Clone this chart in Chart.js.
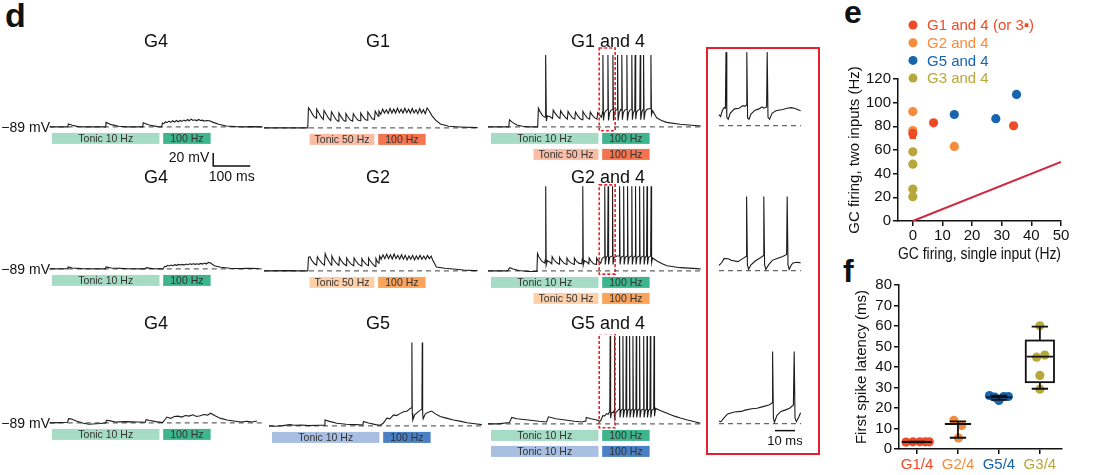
<!DOCTYPE html>
<html lang="en">
<head>
<meta charset="UTF-8">
<title>GC firing with paired inputs</title>
<script src="https://cdn.jsdelivr.net/npm/chart.js@4.4.1/dist/chart.umd.min.js"></script>
<style>
  body { margin: 0; width: 1093px; height: 475px; position: relative; overflow: hidden; background: #fff;
         font-family: 'Liberation Sans', Arial, sans-serif; color: #111; }
  canvas { position: absolute; }
  .lbl { position: absolute; line-height: 1; white-space: nowrap; transform: translate(-50%, -50%); font-size: 18px; }
  .panel { position: absolute; font-weight: bold; line-height: 1; }
  .mv { position: absolute; left: 0; width: 50px; text-align: right; font-size: 14px; line-height: 1; transform: translateY(-50%); }
  #frame { position: absolute; left: 706px; top: 47px; width: 114px; height: 408px; border: 2px solid #e4202c; box-sizing: border-box; }
</style>
</head>
<body>
<div class="panel" style="left:5px;top:-2px;font-size:34px">d</div>
<div class="panel" style="left:844px;top:-4px;font-size:32px">e</div>
<div class="panel" style="left:843px;top:255px;font-size:32px">f</div>
<div id="frame"></div>

<script>
  Chart.defaults.font.family = "'Liberation Sans', Arial, sans-serif";
  Chart.defaults.color = '#111';

  var REST = -89;          // mV, resting level (dashed lines)
  var MS_PX = 0.37;        // px per ms, main traces
  var ZOOM_MS_PX = 2;      // px per ms, red-boxed insets
  var MV_PX = 0.6466;      // px per mV

  // stimulus timing, ms from train start
  var tonic10 = [0, 290];
  var tonic50 = [115, 290];
  var burst100 = [300, 428];
  var zoomWindow = [292, 335];

  // traces, flat [t ms, mV, t ms, mV, ...]
  var g4Row1 = [-6,-89, 43,-89, 44,-84.5, 55,-86.5, 70,-88.5, 90,-89, 145,-89, 146,-82, 160,-85.5, 180,-88, 200,-89,
    245,-89, 246,-82.5, 262,-86, 285,-88.5, 296,-89, 298,-83, 302,-84, 306,-81, 310,-82.5, 316,-80, 320,-82, 326,-79.5,
    330,-81.5, 336,-79, 340,-81, 346,-79, 350,-80.5, 356,-78.5, 360,-80, 366,-77.5, 370,-79.5, 376,-77, 380,-79,
    386,-78, 390,-79.5, 396,-77.5, 400,-79, 406,-78.5, 410,-80, 418,-79, 425,-79.5, 435,-82, 450,-85, 470,-87.5,
    495,-88.5, 520,-89, 540,-88.5, 568,-89];
  var g4Row2 = [-6,-89, 42,-88.5, 44,-86, 55,-87.5, 80,-88.5, 144,-89, 146,-86, 160,-87.5, 200,-88.5, 252,-89, 254,-87,
    270,-88.5, 300,-89, 304,-85, 308,-85.5, 312,-83.5, 316,-84.5, 322,-83, 326,-84, 332,-82.5, 336,-83.5, 342,-82,
    346,-83, 352,-82, 356,-83, 362,-81.5, 366,-82.5, 372,-81, 376,-82, 382,-81, 386,-82, 392,-81, 396,-82, 402,-80.5,
    406,-81.5, 412,-80, 416,-81.5, 422,-79, 428,-80, 438,-84, 455,-86.5, 480,-88, 510,-88.5, 530,-88, 558,-88.5];
  var g4Row3 = [-6,-89, 20,-88.5, 42,-88, 45,-82.5, 53,-83, 65,-86, 85,-89.5, 100,-91, 130,-90, 145,-89, 147,-85,
    155,-85.5, 170,-87.5, 200,-87, 230,-87.5, 252,-88, 254,-84, 262,-85, 280,-87, 298,-88.5, 302,-86, 310,-80, 320,-82,
    330,-79, 340,-78.5, 350,-80, 360,-77.5, 370,-78.5, 380,-76.5, 390,-79, 400,-78, 410,-76, 420,-77, 428,-74, 440,-78,
    455,-82, 472,-84.5, 490,-86, 510,-87.5, 526,-86.5, 540,-87.5, 553,-86];
  var g1Alone = [-8,-89, 110,-89, 112,-58, 116,-61, 125,-70, 133,-74, 134,-60, 138,-64, 146,-72, 152,-76, 154,-62,
    158,-66, 166,-74, 172,-77.5, 174,-64, 178,-68, 186,-76, 192,-78.5, 194,-66, 198,-70, 206,-77, 211,-78.5, 213,-67,
    217,-71, 225,-77, 231,-78.5, 233,-67, 237,-71, 245,-77, 251,-78, 253,-66, 257,-70, 265,-76, 270,-77, 272,-64.5,
    276,-68, 284,-75, 290,-76, 292,-63, 296,-67, 300,-71, 302,-63, 307,-68, 312,-60, 317,-66, 322,-61, 327,-66.5,
    332,-59, 337,-66, 342,-60, 347,-66, 352,-58.5, 357,-65.5, 362,-60, 367,-66, 372,-58.5, 377,-65.5, 382,-60, 387,-66,
    392,-59, 397,-66, 402,-61, 407,-67, 412,-59, 417,-66, 422,-61, 427,-67, 432,-58, 437,-62, 445,-70, 455,-77,
    468,-83, 490,-86.5, 520,-87.5, 568,-88.5];
  var g2Alone = [-8,-89, 60,-88.5, 80,-89, 110,-89, 112,-68, 116,-67, 120,-72, 128,-78, 134,-80, 136,-67, 140,-71,
    148,-77, 155,-80, 157,-62, 161,-68, 169,-76, 174,-80, 175,-66, 179,-71, 187,-77, 194,-80.5, 195.5,-68, 199,-72,
    207,-78, 214,-81, 215,-69, 219,-73, 227,-78.5, 234,-81, 235,-69, 239,-73, 247,-79, 255,-81.5, 256,-70, 260,-74,
    268,-79, 273,-81, 274,-69, 278,-73, 286,-79, 292,-82, 294,-70, 298,-75, 302,-77, 304,-66, 308,-71, 313,-64,
    318,-70, 323,-63, 328,-70, 333,-64, 338,-70.5, 343,-63, 348,-70, 353,-65, 358,-71, 363,-64, 368,-71, 373,-65,
    378,-72, 383,-66, 388,-71, 393,-65, 398,-72, 403,-66, 408,-71, 413,-65, 418,-71, 423,-66, 428,-71, 433,-65,
    438,-70, 443,-66, 447,-72, 457,-83, 480,-85, 503,-86, 530,-87.5, 558,-88.5, 568,-88.5];
  var g5Alone = [-8,-89, 10,-89.5, 30,-88.5, 48,-87, 60,-88, 80,-87.5, 100,-88.5, 125,-88, 141,-88, 143,-80, 155,-82,
    175,-85, 200,-86.5, 225,-87, 245,-87.5, 247,-82, 260,-84.5, 280,-87, 292,-88, 300,-85, 310,-77, 318,-78, 328,-72,
    336,-73, 345,-70, 355,-67, 365,-66, 373,-62, 376.5,-61, 377.5,40, 378.5,-70, 380,-80, 385,-72, 395,-67, 404.5,-63,
    405.5,40, 406.5,-70, 408,-78, 414,-70, 422,-68, 431,-66, 440,-70, 454,-74.6, 470,-77, 490,-80, 510,-82, 526,-84,
    553,-86, 566,-87];
  var g1g4 = [-8,-89, 48,-89, 50,-78, 58,-82, 70,-86, 85,-88, 100,-89, 126,-89, 128,-60, 132,-65, 140,-72, 146,-74,
    147,-68, 148,22, 149.5,-80, 152,-72, 158,-73, 166,-76, 168,-63, 172,-67, 180,-73, 186,-76, 188,-64, 192,-68,
    200,-74, 206,-77, 208,-65, 212,-69, 220,-75, 226,-77, 228,-66, 232,-70, 240,-76, 246,-78, 248,-65, 252,-69,
    260,-75, 266,-77, 268,-66, 272,-70, 280,-75, 286,-77, 288,-67, 292,-70, 298,-74,
    301,-66, 302,22, 303.5,-79, 306,-68, 310,-64, 314,-62, 315.5,22, 317,-79, 320,-67, 324,-63, 328,-62, 329,22,
    330.5,-79, 333,-67, 337,-63, 340.5,-62, 341.6,22, 343,-79, 346,-67, 350,-62, 352,-63, 353,22, 354.5,-78, 357,-67,
    361,-63, 365.5,-62, 366.7,22, 368,-79, 371,-67, 375,-63, 379,-62, 380,22, 381.5,-78, 384,-67, 388,-63, 389,22,
    390.5,-77, 393,-66, 397,-63, 401.5,-62, 402.7,22, 404,-78, 407,-66, 410.5,-62, 411.7,22, 413,-78, 416,-66,
    420,-62, 425,-61, 430,-61, 431.5,22, 433,-70, 436,-64, 447,-75, 460,-79, 474,-82, 510,-85, 566,-87.5];
  var g2g4 = [-8,-89, 45,-89, 51,-84, 60,-86, 75,-88.5, 100,-90, 124,-90, 125.5,-62, 129,-67, 137,-74, 145,-77,
    146.5,-72, 147.7,42, 149,-80, 152,-73, 160,-76, 164,-78, 165,-67, 169,-71, 177,-76, 184,-78.5, 185,-68, 189,-72,
    197,-77, 204,-79, 205,-69, 209,-73, 217,-77, 224,-79, 225,-69, 229,-73, 237,-77, 245,-78, 246.5,-70, 247.7,42,
    249,-80, 252,-73, 260,-76, 264,-78, 265,-69, 269,-73, 277,-78, 284,-79, 285,-69, 289,-73, 296,-77,
    300,-70, 305.8,-67, 307,42, 308.3,-79, 311,-68, 314.8,-66, 316,42, 317.3,-79, 320,-68, 326.8,-66, 328,42,
    329.3,-79, 332,-68, 340,-66, 345.8,-66, 347,42, 348.3,-79, 351,-68, 356.8,-66, 358,42, 359.3,-79, 362,-68,
    367.3,-66, 368.5,42, 369.8,-79, 372.5,-68, 378.8,-66, 380,42, 381.3,-79, 384,-68, 388.8,-66, 390,42, 391.3,-79,
    394,-68, 399.8,-66, 401,42, 402.3,-79, 405,-68, 410.8,-66, 412,42, 413.3,-79, 416,-68, 419.8,-66, 421,42,
    422.3,-79, 425,-68, 430.8,-66, 432,42, 433.3,-76, 436,-69, 448,-73.6, 462,-78, 475,-81, 511,-84, 556,-85.5, 566,-86];
  var g5g4 = [-8,-89, 20,-89, 50,-87, 56,-79, 70,-81, 100,-83, 130,-85, 150,-86, 155,-78, 175,-81, 200,-83, 225,-85,
    245,-86, 256,-84.5, 257,-79, 270,-81, 285,-83, 294,-85, 296,-84, 302,-76, 306,-77, 312,-73, 316,-74, 320.5,-70,
    321.6,47, 322.8,-80, 325,-72, 329,-71, 332,-69, 333,47, 334.2,-80, 337,-71, 341,-69, 346,-66, 347,47, 348.2,-79,
    351,-68, 355,-66, 356,47, 357.2,-79, 360,-68, 364,-66, 365,47, 366.2,-79, 369,-68, 373,-66, 374,47, 375.2,-79,
    378,-68, 382,-66, 383,47, 384.2,-79, 387,-68, 391,-66, 392,47, 393.2,-79, 396,-68, 400,-66, 401,47, 402.2,-79,
    405,-68, 411,-66, 412,47, 413.2,-79, 416,-68, 420,-66, 421,47, 422.2,-79, 425,-68, 429,-66, 430,47, 431.2,-79,
    434,-68, 439,-66, 440,47, 441.2,-77, 444,-65, 455,-68, 475,-72.6, 495,-77, 511,-80, 530,-83, 547,-85.4, 565,-88];

  // insets: the red-boxed 43 ms, t from start of the box
  var g1g4Zoom = [0,-72, 0.8,-75, 1.6,-66, 2.6,-61, 3.2,-62, 3.5,25, 3.9,-76, 4.6,-79, 5.6,-70, 7.7,-63, 10,-62,
    12,-58, 13,-59, 13.6,-57, 13.9,25, 14.3,-77, 15,-79, 16,-71, 18,-65, 20,-63, 21.5,-60, 22.5,-62, 23.8,-60,
    24.1,25, 24.5,-76, 25.3,-79, 26.5,-70, 28.4,-66, 31.9,-64, 34,-62, 36.2,-61, 38,-62.5, 40.8,-66];
  var g2g4Zoom = [0,-81, 1.5,-76, 2.6,-70, 5,-71, 6,-73, 9.5,-75, 12,-70, 13.5,-67, 13.8,26, 14.2,-80, 14.8,-87,
    16,-80, 18.1,-74, 20.7,-69, 22.1,-66, 22.4,26, 22.8,-80, 23.4,-87, 24.8,-80, 26.7,-73, 29,-70, 31.9,-67,
    33.8,-64, 34.1,26, 34.5,-80, 35.1,-87, 36.2,-80, 37,-77, 39,-76, 40.8,-77];
  var g5g4Zoom = [0,-85, 1,-86, 2.5,-80, 4.3,-74, 7.7,-71, 11.2,-70, 13,-68, 16.4,-66, 19,-65, 21.5,-63, 25,-60,
    26.5,-57, 26.8,23, 27.2,-80, 27.7,-87, 29,-76, 31,-70, 33,-68, 35.3,-65, 37.2,-60, 37.6,23, 38,-80, 38.7,-86,
    40,-78, 40.8,-72];

  // panel e: GC firing (Hz), single input vs two inputs
  var eNames = ['G1 and 4 (or 3\u25AA)', 'G2 and 4', 'G5 and 4', 'G3 and 4'];
  var g1and4Single = [0, 0, 7, 34];
  var g1and4Both = [74, 72, 83, 80.5];
  var g2and4Single = [0, 0, 14];
  var g2and4Both = [92.5, 76.5, 63];
  var g5and4Single = [14, 28, 35];
  var g5and4Both = [90, 86.5, 107];
  var g3and4Single = [0, 0, 0, 0];
  var g3and4Both = [58.5, 48, 27, 20.5];
  var unityLine = [0, 50];

  // panel f: first spike latency (ms)
  var fGroups = ['G1/4', 'G2/4', 'G5/4', 'G3/4'];
  var latG1 = [3.4, 3.5, 3.5, 3.5, 3.5];
  var latG2 = [14, 11.5, 5.4];
  var latG5 = [26.1, 25.3, 23.7, 25.6, 25.6];
  var latG3 = [60.1, 44.8, 45.8, 35.9, 29.2];
  var jitG1 = [-0.27, -0.1, 0.07, 0.2, 0.3];
  var jitG2 = [-0.1, 0.09, 0.01];
  var jitG5 = [-0.23, -0.1, 0, 0.12, 0.23];
  var jitG3 = [0, -0.08, 0.12, 0, 0];
  // min, q1, median, q3, max
  var boxStats = [[3.3, 3.4, 3.5, 3.5, 3.6], [5.5, 12.2, 12.2, 12.2, 13.5], [24, 25.2, 25.2, 25.2, 26], [29.4, 32.6, 45.1, 52.9, 59.7]];

  var RED = '#ef4a27', ORANGE = '#f78b3c', BLUE = '#1764af', OLIVE = '#b7a83b';
  var stimColors = {
    G4: ['#a6dcc6', '#3fb58e'],
    G1: ['#f9bda6', '#f3744f'],
    G2: ['#fdd0aa', '#f9a35c'],
    G5: ['#a8bfe2', '#4b80c4']
  };

  function pairs(flat) {
    var out = [];
    for (var i = 0; i < flat.length; i += 2) out.push({ x: flat[i], y: flat[i + 1] });
    return out;
  }

  function stimRow(input, tonic, tonicLabel) {
    return [
      { span: tonic, label: tonicLabel, color: stimColors[input][0] },
      { span: burst100, label: '100 Hz', color: stimColors[input][1] }
    ];
  }

  // bars, dashed zoom box and scale bars drawn with the chart's own scales
  var traceExtras = {
    id: 'traceExtras',
    afterDraw: function (chart, args, o) {
      var ctx = chart.ctx, x = chart.scales.x, y = chart.scales.y;
      var base = y.getPixelForValue(REST);
      ctx.save();
      (o.bars || []).forEach(function (row, r) {
        row.forEach(function (b) {
          var x1 = x.getPixelForValue(b.span[0]), x2 = x.getPixelForValue(b.span[1]);
          var top = base + 6 + r * 16;
          ctx.fillStyle = b.color;
          ctx.fillRect(x1, top, x2 - x1, 11);
          ctx.fillStyle = '#333';
          ctx.font = "10.5px 'Liberation Sans', Arial";
          ctx.textAlign = 'center';
          ctx.textBaseline = 'middle';
          ctx.fillText(b.label, (x1 + x2) / 2, top + 6);
        });
      });
      if (o.box) {
        var bx1 = x.getPixelForValue(o.box[0]), bx2 = x.getPixelForValue(o.box[1]);
        var by1 = y.getPixelForValue(o.box[3]), by2 = y.getPixelForValue(o.box[2]);
        ctx.strokeStyle = '#e8242c';
        ctx.lineWidth = 1.6;
        ctx.setLineDash([3, 2]);
        ctx.strokeRect(bx1, by1, bx2 - bx1, by2 - by1);
        ctx.setLineDash([]);
      }
      if (o.scaleBar) {
        var s = o.scaleBar;
        var sx = x.getPixelForValue(s.t), sy = y.getPixelForValue(s.v);
        var ex = x.getPixelForValue(s.t + s.dt);
        ctx.strokeStyle = '#111';
        ctx.lineWidth = 1.5;
        ctx.beginPath();
        if (s.dv) {
          ctx.moveTo(sx, y.getPixelForValue(s.v + s.dv));
          ctx.lineTo(sx, sy);
        } else {
          ctx.moveTo(sx, sy);
        }
        ctx.lineTo(ex, sy);
        ctx.stroke();
        ctx.fillStyle = '#111';
        ctx.font = s.font + "px 'Liberation Sans', Arial";
        ctx.textBaseline = 'middle';
        if (s.dv) {
          ctx.textAlign = 'right';
          ctx.fillText(s.vText, sx - 4, (sy + y.getPixelForValue(s.v + s.dv)) / 2 - 1);
        }
        ctx.textAlign = 'center';
        ctx.fillText(s.tText, (sx + ex) / 2, sy + 11);
      }
      ctx.restore();
    }
  };

  function traceChart(data, x0, base, pxPerMs, tRange, vRange, extras, dashEnd) {
    var c = document.createElement('canvas');
    c.width = Math.round((tRange[1] - tRange[0]) * pxPerMs);
    c.height = Math.round((vRange[1] - vRange[0]) * MV_PX);
    c.style.left = (x0 + tRange[0] * pxPerMs) + 'px';
    c.style.top = (base - (vRange[1] - REST) * MV_PX) + 'px';
    document.body.appendChild(c);
    var pts = pairs(data);
    var dashStart = dashEnd[0] !== undefined ? dashEnd[0] : pts[0].x;
    new Chart(c, {
      type: 'scatter',
      data: {
        datasets: [
          { data: pts, showLine: true, borderColor: '#1c1c1c', borderWidth: 1.1, pointRadius: 0, tension: 0 },
          { data: [{ x: dashStart, y: REST }, { x: dashEnd[1], y: REST }], showLine: true, borderColor: '#666',
            borderWidth: 1.4, borderDash: [5, 4], pointRadius: 0 }
        ]
      },
      options: {
        responsive: false, animation: false, events: [],
        layout: { padding: 0 },
        plugins: { legend: { display: false }, tooltip: { enabled: false }, traceExtras: extras },
        scales: {
          x: { type: 'linear', display: false, min: tRange[0], max: tRange[1] },
          y: { display: false, min: vRange[0], max: vRange[1] }
        }
      },
      plugins: [traceExtras]
    });
  }

  var MAIN_T = [-8, 572], MAIN_V = [-185, 50];
  var colX0 = [52, 267, 491];

  var g4Stim = [stimRow('G4', tonic10, 'Tonic 10 Hz')];
  var traces = [
    { title: 'G4', data: g4Row1, x0: colX0[0], base: 127, bars: g4Stim,
      scaleBar: { t: 435, v: -149.3, dt: 100, dv: 20, tText: '100 ms', vText: '20 mV', font: 14 } },
    { title: 'G1', data: g1Alone, x0: colX0[1], base: 127.5, bars: [stimRow('G1', tonic50, 'Tonic 50 Hz')] },
    { title: 'G1 and 4', data: g1g4, x0: colX0[2], base: 127,
      bars: [stimRow('G4', tonic10, 'Tonic 10 Hz'), stimRow('G1', tonic50, 'Tonic 50 Hz')], box: [zoomWindow[0], zoomWindow[1], -95, 33] },
    { title: 'G4', data: g4Row2, x0: colX0[0], base: 268.5, bars: g4Stim },
    { title: 'G2', data: g2Alone, x0: colX0[1], base: 270.5, bars: [stimRow('G2', tonic50, 'Tonic 50 Hz')] },
    { title: 'G2 and 4', data: g2g4, x0: colX0[2], base: 271,
      bars: [stimRow('G4', tonic10, 'Tonic 10 Hz'), stimRow('G2', tonic50, 'Tonic 50 Hz')], box: [zoomWindow[0], zoomWindow[1], -94, 44] },
    { title: 'G4', data: g4Row3, x0: colX0[0], base: 423, bars: g4Stim },
    { title: 'G5', data: g5Alone, x0: 272, base: 425.5, bars: [stimRow('G5', tonic10, 'Tonic 10 Hz')] },
    { title: 'G5 and 4', data: g5g4, x0: colX0[2], base: 424,
      bars: [stimRow('G4', tonic10, 'Tonic 10 Hz'), stimRow('G5', tonic10, 'Tonic 10 Hz')], box: [zoomWindow[0], zoomWindow[1], -95, 51] }
  ];

  var titleX = [156, 378, 608], titleY = [41, 177, 323];
  traces.forEach(function (tr, i) {
    var last = tr.data[tr.data.length - 2];
    traceChart(tr.data, tr.x0, tr.base, MS_PX, MAIN_T, MAIN_V,
      { bars: tr.bars, box: tr.box, scaleBar: tr.scaleBar }, [undefined, Math.max(last, 566)]);
    var t = document.createElement('div');
    t.className = 'lbl';
    t.textContent = tr.title;
    t.style.left = titleX[i % 3] + 'px';
    t.style.top = titleY[Math.floor(i / 3)] + 'px';
    document.body.appendChild(t);
  });
  [127, 268.5, 423].forEach(function (b) {
    var m = document.createElement('div');
    m.className = 'mv';
    m.textContent = '\u221289 mV';
    m.style.top = b + 'px';
    document.body.appendChild(m);
  });

  // insets
  var ZOOM_T = [-0.5, 41.5], ZOOM_V = [-150, 50];
  traceChart(g1g4Zoom, 719, 126, ZOOM_MS_PX, ZOOM_T, ZOOM_V, {}, [0, 41]);
  traceChart(g2g4Zoom, 719, 271, ZOOM_MS_PX, ZOOM_T, ZOOM_V, {}, [0, 41]);
  traceChart(g5g4Zoom, 719, 424, ZOOM_MS_PX, ZOOM_T, ZOOM_V,
    { scaleBar: { t: 28, v: -99.8, dt: 10, tText: '10 ms', font: 13 } }, [0, 41]);

  // ---- panel e ----
  function xy(xs, ys) { return xs.map(function (v, i) { return { x: v, y: ys[i] }; }); }

  var axisStyle = {
    grid: { drawOnChartArea: false, color: '#111', lineWidth: 1.5, tickLength: 5 },
    border: { color: '#111', width: 1.5 }
  };

  var eSeries = [
    { name: eNames[0], color: RED, data: xy(g1and4Single, g1and4Both), style: ['circle', 'rect', 'circle', 'circle'] },
    { name: eNames[1], color: ORANGE, data: xy(g2and4Single, g2and4Both), style: 'circle' },
    { name: eNames[2], color: BLUE, data: xy(g5and4Single, g5and4Both), style: 'circle' },
    { name: eNames[3], color: OLIVE, data: xy(g3and4Single, g3and4Both), style: 'circle' }
  ];

  var legendE = {
    id: 'legendE',
    afterDraw: function (chart) {
      var ctx = chart.ctx;
      ctx.save();
      ctx.font = "15px 'Liberation Sans', Arial";
      ctx.textBaseline = 'middle';
      ctx.textAlign = 'left';
      eSeries.forEach(function (s, i) {
        var yy = 25 + i * 17.7;
        ctx.fillStyle = s.color;
        ctx.beginPath();
        ctx.arc(93, yy, 4.5, 0, Math.PI * 2);
        ctx.fill();
        ctx.fillText(s.name, 107, yy + 1);
      });
      ctx.restore();
    }
  };

  var ce = document.createElement('canvas');
  ce.width = 273; ce.height = 264;
  ce.style.left = '820px'; ce.style.top = '0px';
  document.body.appendChild(ce);
  new Chart(ce, {
    type: 'scatter',
    data: {
      datasets: eSeries.map(function (s) {
        return { label: s.name, data: s.data, backgroundColor: s.color, borderWidth: 0, pointRadius: 4.6, pointStyle: s.style };
      }).concat([{ data: xy(unityLine, unityLine), showLine: true, borderColor: '#d0283e', borderWidth: 2, pointRadius: 0 }])
    },
    options: {
      responsive: false, animation: false, events: [],
      layout: { padding: { left: 26, top: 79, right: 32, bottom: 0 } },
      plugins: { legend: { display: false }, tooltip: { enabled: false } },
      scales: {
        x: Object.assign({
          type: 'linear', min: -5, max: 50,
          afterBuildTicks: function (s) { s.ticks = [0, 10, 20, 30, 40, 50].map(function (v) { return { value: v }; }); },
          afterFit: function (s) { s.height = 43; },
          ticks: { color: '#111', font: { size: 15 }, padding: 1, maxRotation: 0, autoSkip: false },
          title: { display: true, text: 'GC firing, single input (Hz)', color: '#111', font: { size: 16 }, padding: 0 }
        }, axisStyle),
        y: Object.assign({
          min: 0, max: 120,
          afterFit: function (s) { s.width = 52; },
          ticks: { stepSize: 20, color: '#111', font: { size: 15 }, padding: 2, autoSkip: false },
          title: { display: true, text: 'GC firing, two inputs (Hz)', color: '#111', font: { size: 15 }, padding: 0 }
        }, axisStyle)
      }
    },
    plugins: [legendE]
  });

  // ---- panel f ----
  var fColors = [RED, ORANGE, BLUE, OLIVE];
  var fLat = [latG1, latG2, latG5, latG3];
  var fJit = [jitG1, jitG2, jitG5, jitG3];

  var boxPlot = {
    id: 'boxPlot',
    afterDatasetsDraw: function (chart) {
      var ctx = chart.ctx, x = chart.scales.x, y = chart.scales.y;
      ctx.save();
      ctx.strokeStyle = '#111';
      ctx.lineWidth = 1.8;
      boxStats.forEach(function (st, i) {
        var cx = x.getPixelForValue(i);
        var half = x.getPixelForValue(i + 0.32) - cx;
        var cap = x.getPixelForValue(i + 0.2) - cx;
        var py = st.map(function (v) { return y.getPixelForValue(v); });
        ctx.beginPath();
        ctx.moveTo(cx, py[0]); ctx.lineTo(cx, py[1]);
        ctx.moveTo(cx, py[3]); ctx.lineTo(cx, py[4]);
        ctx.moveTo(cx - cap, py[0]); ctx.lineTo(cx + cap, py[0]);
        ctx.moveTo(cx - cap, py[4]); ctx.lineTo(cx + cap, py[4]);
        ctx.moveTo(cx - half, py[2]); ctx.lineTo(cx + half, py[2]);
        ctx.stroke();
        if (st[3] > st[1]) ctx.strokeRect(cx - half - 1, py[3], 2 * half + 2, py[1] - py[3]);
      });
      ctx.restore();
    }
  };

  var cf = document.createElement('canvas');
  cf.width = 273; cf.height = 220;
  cf.style.left = '820px'; cf.style.top = '255px';
  document.body.appendChild(cf);
  new Chart(cf, {
    type: 'scatter',
    data: {
      datasets: fLat.map(function (vals, g) {
        return {
          data: vals.map(function (v, k) { return { x: g + fJit[g][k], y: v }; }),
          backgroundColor: fColors[g], borderWidth: 0, pointRadius: 4.6
        };
      })
    },
    options: {
      responsive: false, animation: false, events: [],
      layout: { padding: { left: 33, top: 30, right: 31, bottom: 0 } },
      plugins: { legend: { display: false }, tooltip: { enabled: false } },
      scales: {
        x: Object.assign({
          type: 'linear', min: -0.44, max: 3.54,
          afterBuildTicks: function (s) { s.ticks = [0, 1, 2, 3].map(function (v) { return { value: v }; }); },
          afterFit: function (s) { s.height = 26; },
          ticks: { font: { size: 15 }, padding: 2, maxRotation: 0, autoSkip: false,
                   color: function (c) { return fColors[c.index]; },
                   callback: function (v) { return fGroups[v]; } }
        }, axisStyle),
        y: Object.assign({
          min: 0, max: 80,
          afterBuildTicks: function (s) { s.ticks = [0, 10, 20, 30, 40, 50, 60, 70, 80].map(function (v) { return { value: v }; }); },
          afterFit: function (s) { s.width = 46; },
          ticks: { color: '#111', font: { size: 15 }, padding: 2, autoSkip: false },
          title: { display: true, text: 'First spike latency (ms)', color: '#111', font: { size: 15 }, padding: 0 }
        }, axisStyle)
      }
    },
    plugins: [boxPlot]
  });
</script>
</body>
</html>
